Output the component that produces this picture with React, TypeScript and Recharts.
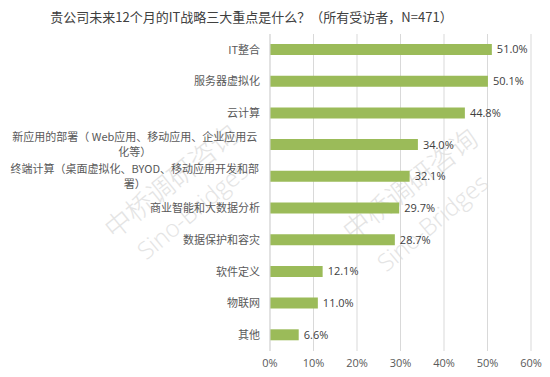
import React from "react";
import { BarChart, Bar, XAxis, YAxis, CartesianGrid, LabelList } from "recharts";

const title = "贵公司未来12个月的IT战略三大重点是什么？（所有受访者，N=471）";

// "\n" marks where the long labels wrap in the reference
const categories = [
  "IT整合",
  "服务器虚拟化",
  "云计算",
  "新应用的部署（ Web应用、移动应用、企业应用云\n化等）",
  "终端计算（桌面虚拟化、BYOD、移动应用开发和部\n署）",
  "商业智能和大数据分析",
  "数据保护和容灾",
  "软件定义",
  "物联网",
  "其他",
];
const values = [51.0, 50.1, 44.8, 34.0, 32.1, 29.7, 28.7, 12.1, 11.0, 6.6];
const xTicks = [0, 10, 20, 30, 40, 50, 60];

const data = categories.map((name, i) => ({ name, value: values[i] }));

const CJK_FONT = "'Noto Sans CJK SC', 'Noto Sans', sans-serif";
const NUM_FONT = "'Open Sans', 'Noto Sans CJK SC', sans-serif";

function textWidth(s: string, size: number) {
  let w = 0;
  for (const ch of s) w += ch.charCodeAt(0) > 0x2e80 ? size : size * 0.6;
  return w;
}

function CategoryTick({ x, y, payload }: any) {
  const lines: string[] = String(payload.value).split("\n");
  const size = 11;
  const right = x - 2;
  if (lines.length === 1) {
    return (
      <text x={right} y={y} dy="0.35em" textAnchor="end" fontSize={size} fill="#595959" fontFamily={CJK_FONT}>
        {lines[0]}
      </text>
    );
  }
  const w = Math.max(...lines.map(l => textWidth(l, size)));
  const cx = right - w / 2 - 2;
  return (
    <g>
      {lines.map((l, i) => (
        <text key={i} x={cx} y={y + (i - (lines.length - 1) / 2) * 15} dy="0.35em"
          textAnchor="middle" fontSize={size} fill="#595959" fontFamily={CJK_FONT}>{l}</text>
      ))}
    </g>
  );
}

// faint watermark, drawn under the chart
function Watermark() {
  const cjk = { fill: "#e4e4e4", fontFamily: CJK_FONT, fontWeight: 300 };
  const lat = { fill: "#e4e4e4", fontFamily: NUM_FONT, fontWeight: 300 };
  return (
    <svg width={550} height={377} style={{ position: "absolute", left: 0, top: 0, pointerEvents: "none" }}>
      <text x={170} y={180} fontSize={27} textAnchor="middle" dominantBaseline="central" transform="rotate(-39 170 180)" style={cjk}>中桥调研咨询</text>
      <text x={192} y={210} fontSize={24} textAnchor="middle" dominantBaseline="central" transform="rotate(-40 192 210)" style={lat}>Sino-Bridges</text>
      <text x={409} y={183} fontSize={27} textAnchor="middle" dominantBaseline="central" transform="rotate(-38 409 183)" style={cjk}>中桥调研咨询</text>
      <text x={432} y={222} fontSize={24} textAnchor="middle" dominantBaseline="central" transform="rotate(-40 432 222)" style={lat}>Sino-Bridges</text>
    </svg>
  );
}

export default function App() {
  return (
    <div style={{ position: "absolute", left: 0, top: 0, width: 550, height: 377, background: "#fff", fontFamily: CJK_FONT }}>
      <Watermark />
      <div style={{ position: "absolute", left: 0, top: 7, width: 503, textAlign: "center", fontSize: 13, color: "#404040", whiteSpace: "nowrap" }}>
        {title}
      </div>
      <div style={{ position: "absolute", left: 0, top: 0 }}>
        <BarChart
          width={550}
          height={377}
          data={data}
          layout="vertical"
          margin={{ top: 34, right: 19, left: 0, bottom: 0 }}
          barCategoryGap={10}
        >
          <CartesianGrid horizontal={false} stroke="#d9d9d9" />
          <XAxis
            type="number"
            domain={[0, 60]}
            ticks={xTicks}
            height={26}
            axisLine={false}
            tickLine={false}
            tick={{ fontSize: 11, fill: "#595959", fontFamily: NUM_FONT }}
            tickFormatter={v => `${v}%`}
          />
          <YAxis
            type="category"
            dataKey="name"
            width={270}
            axisLine={{ stroke: "#d9d9d9" }}
            tickLine={false}
            interval={0}
            tick={<CategoryTick />}
          />
          <Bar dataKey="value" fill="#9bbb59" barSize={11} isAnimationActive={false}>
            <LabelList
              dataKey="value"
              position="right"
              offset={5}
              formatter={(v: any) => `${Number(v).toFixed(1)}%`}
              style={{ fontSize: 11, fill: "#404040", fontFamily: NUM_FONT }}
            />
          </Bar>
        </BarChart>
      </div>
    </div>
  );
}
